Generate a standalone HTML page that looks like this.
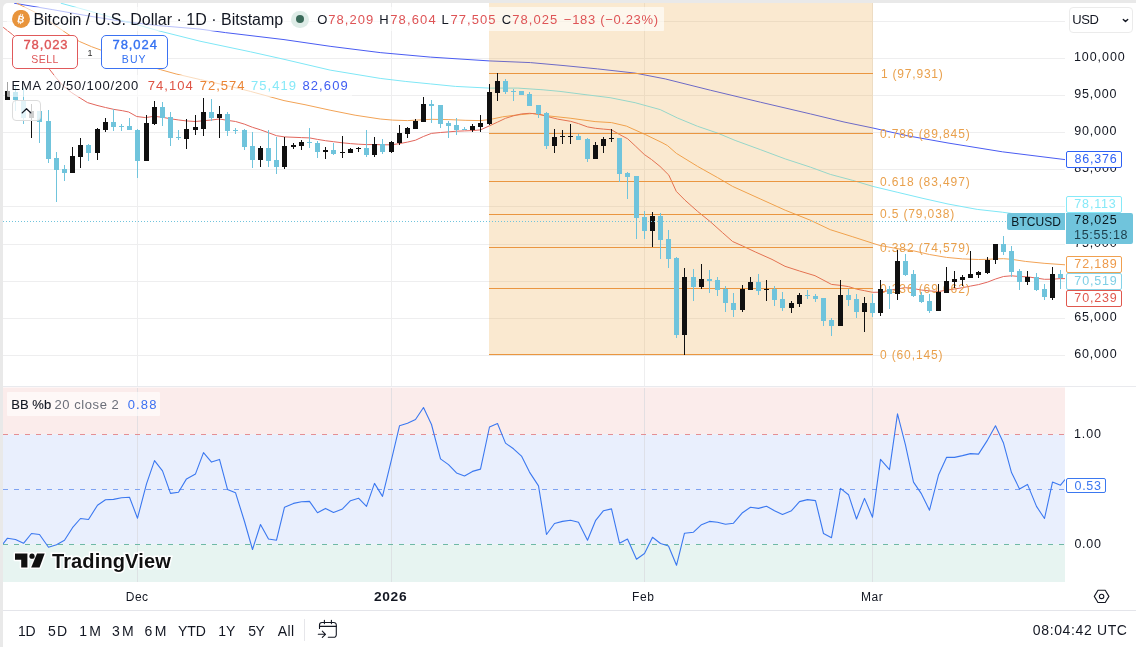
<!DOCTYPE html>
<html><head><meta charset="utf-8"><title>BTCUSD chart</title><style>
html,body{margin:0;padding:0}
body{width:1136px;height:647px;overflow:hidden;background:#e9e9e9;font-family:"Liberation Sans",sans-serif;position:relative}
#app{position:absolute;left:3px;top:3px;width:1133px;height:644px;background:#fff;border-top-left-radius:5px}
#root{position:absolute;left:0;top:0;width:1136px;height:647px;overflow:hidden;will-change:transform}
.chart{position:absolute;left:0;top:0}
.t{position:absolute;white-space:pre;font-family:"Liberation Sans",sans-serif}
.lbg{position:absolute;background:rgba(255,255,255,.62);border-radius:1px}
.btc{position:absolute;width:18px;height:18px}
.btn{position:absolute;box-sizing:border-box;border:1px solid #ccc;border-radius:5px;background:#fff}
.pl{position:absolute;box-sizing:border-box;border:1px solid #ccc;border-radius:2px;background:#fff}
</style></head><body><div id="app"></div><div id="root">
<svg class="chart" width="1136" height="647" viewBox="0 0 1136 647">
<defs><clipPath id="cm"><rect x="3" y="3" width="1062" height="383.5"/></clipPath><clipPath id="cl"><rect x="3" y="387.5" width="1062" height="194.5"/></clipPath></defs>
<rect x="3" y="387.5" width="1062" height="46.80000000000001" fill="#fbeceb"/>
<rect x="3" y="434.3" width="1062" height="110.19999999999999" fill="#e9effd"/>
<rect x="3" y="544.5" width="1062" height="37.5" fill="#e7f4f1"/>
<g stroke="#eeeeef" stroke-width="1" shape-rendering="crispEdges">
<line x1="3" x2="1065" y1="21.5" y2="21.5"/>
<line x1="3" x2="1065" y1="58.5" y2="58.5"/>
<line x1="3" x2="1065" y1="95.5" y2="95.5"/>
<line x1="3" x2="1065" y1="132.5" y2="132.5"/>
<line x1="3" x2="1065" y1="169.5" y2="169.5"/>
<line x1="3" x2="1065" y1="206.5" y2="206.5"/>
<line x1="3" x2="1065" y1="244.5" y2="244.5"/>
<line x1="3" x2="1065" y1="281.5" y2="281.5"/>
<line x1="3" x2="1065" y1="318.5" y2="318.5"/>
<line x1="3" x2="1065" y1="355.5" y2="355.5"/>
<line x1="137.5" x2="137.5" y1="3" y2="386.5"/>
<line x1="391.5" x2="391.5" y1="3" y2="386.5"/>
<line x1="644.5" x2="644.5" y1="3" y2="386.5"/>
<line x1="872.5" x2="872.5" y1="3" y2="386.5"/>
</g>
<g stroke="#d9dade" stroke-opacity="0.7" stroke-width="1" shape-rendering="crispEdges">
<line x1="137.5" x2="137.5" y1="387.5" y2="582"/>
<line x1="391.5" x2="391.5" y1="387.5" y2="582"/>
<line x1="644.5" x2="644.5" y1="387.5" y2="582"/>
<line x1="872.5" x2="872.5" y1="387.5" y2="582"/>
</g>
<g clip-path="url(#cm)" fill="none" stroke-width="1" stroke-linejoin="round">
<polyline stroke="#4a5cf2" points="14.1,3.2 52.9,9.7 88.1,15.9 123.3,21.5 158.6,25.6 200.0,29.1 225.4,32.6 284.0,39.6 330.1,46.3 380.2,52.6 430.3,57.1 489.1,60.9 530.4,62.6 564.0,65.6 597.6,68.9 635.1,73.1 665.2,78.9 710.3,90.2 760.4,102.2 810.4,113.9 844.0,122.0 872.9,128.0 906.0,135.5 948.0,143.0 1002.3,151.8 1065.0,159.6"/>
<polyline stroke="#7fe7f6" points="60.8,3.2 88.1,10.6 123.3,20.8 158.6,30.8 200.0,41.2 250.4,51.8 284.0,59.3 330.1,70.1 380.2,78.4 405.2,81.4 430.3,83.9 455.3,86.4 489.1,88.1 517.9,88.1 543.0,89.8 560.0,91.4 585.0,94.6 610.1,97.7 635.1,102.7 660.2,109.6 677.5,118.0 697.6,126.3 717.6,133.1 735.1,140.4 760.3,149.6 785.2,158.9 810.3,167.1 830.3,174.4 852.8,180.4 872.9,186.4 897.9,192.4 923.0,198.4 948.0,204.0 977.2,209.4 1002.3,212.2 1030.0,216.0 1065.0,219.5"/>
<polyline stroke="#f2a356" points="16.7,3.2 35.2,12.3 52.9,23.8 67.0,33.5 79.3,41.4 91.6,46.7 100.4,49.9 130.0,59.6 160.4,69.6 176.2,74.0 200.4,79.6 225.4,85.2 250.4,91.4 284.0,100.6 305.0,104.7 330.1,110.2 355.1,115.2 380.2,119.0 392.7,120.1 407.5,120.6 431.3,119.3 448.9,119.6 465.1,120.3 480.2,120.6 489.5,119.6 502.7,116.8 515.2,115.2 532.5,113.5 546.5,115.7 570.1,118.2 595.1,121.6 611.5,122.6 626.4,126.1 645.2,134.5 662.0,142.6 667.5,145.6 676.3,153.3 697.6,166.4 717.6,177.6 732.6,186.4 760.2,198.9 785.2,210.2 810.3,220.2 830.3,229.7 852.8,236.8 872.9,243.3 880.0,245.5 897.5,248.7 913.4,250.8 929.5,254.5 946.5,257.4 962.5,258.9 978.5,259.5 987.6,259.3 995.5,258.9 1003.5,258.7 1011.5,259.3 1025.3,261.4 1044.1,263.3 1065.1,264.8"/>
<polyline stroke="#e2665c" points="3.2,27.3 12.3,34.4 49.5,69.3 55.8,77.4 63.2,85.9 71.7,92.7 80.1,98.0 87.5,102.6 97.0,105.4 105.5,107.5 113.9,109.4 122.4,110.7 128.7,112.0 136.7,116.5 145.6,117.6 154.1,116.3 162.6,117.3 170.7,118.8 178.8,120.0 186.3,120.9 195.1,121.5 203.9,120.7 211.4,120.0 219.5,119.0 227.7,120.4 235.6,121.5 244.3,124.1 252.5,127.3 260.5,129.8 268.5,132.7 276.5,135.7 284.5,136.9 301.4,137.6 309.5,137.9 317.5,139.4 325.5,140.7 333.5,141.7 342.4,142.8 350.4,143.6 358.5,144.2 366.6,144.6 374.5,144.5 382.5,144.8 391.5,144.8 399.5,143.6 407.5,142.1 415.5,140.2 423.4,136.5 431.4,133.4 440.5,132.5 448.5,131.9 456.5,131.2 464.5,130.9 472.5,130.6 480.4,129.9 489.5,125.8 497.6,122.1 505.5,118.3 513.5,115.8 521.5,113.9 529.5,113.3 538.8,114.1 546.5,116.3 557.6,119.1 570.5,121.3 578.5,123.6 587.5,126.9 595.5,128.3 603.5,129.1 611.5,129.8 619.5,134.5 627.7,138.8 635.8,146.4 644.3,154.5 651.5,159.5 660.0,166.4 668.8,175.1 676.3,191.4 685.0,200.2 697.6,211.4 710.1,221.5 722.6,232.7 732.6,241.5 742.7,246.0 755.2,251.9 772.0,259.4 785.0,266.3 799.5,271.0 815.0,275.7 831.5,284.4 840.5,285.4 848.5,286.6 856.5,289.1 864.5,290.7 872.5,292.3 880.5,292.2 889.5,290.4 897.5,288.8 905.5,287.7 913.4,288.6 921.4,290.0 929.5,290.9 938.5,291.5 946.5,290.2 954.5,289.0 962.5,287.7 970.4,286.1 978.5,284.6 987.6,282.1 995.5,279.0 1003.5,276.5 1011.5,275.8 1019.5,276.5 1027.4,276.8 1036.6,278.1 1044.5,279.3 1052.5,279.2 1060.5,278.6 1065.1,278.6"/>
</g>
<rect x="489" y="3" width="384" height="352.3" fill="#e99d2e" fill-opacity="0.225"/>
<g stroke="#ea9640" stroke-width="1" shape-rendering="crispEdges">
<line x1="489" x2="873" y1="73.5" y2="73.5"/>
<line x1="489" x2="873" y1="133.5" y2="133.5"/>
<line x1="489" x2="873" y1="181.5" y2="181.5"/>
<line x1="489" x2="873" y1="214.5" y2="214.5"/>
<line x1="489" x2="873" y1="247.5" y2="247.5"/>
<line x1="489" x2="873" y1="288.5" y2="288.5"/>
<line x1="489" x2="873" y1="354.5" y2="354.5"/>
</g>
<g font-family="Liberation Sans, sans-serif">
<text x="880.89" y="77.50" font-size="12" fill="#e9a04c" letter-spacing="0.806">1 (97,931)</text>
<text x="879.93" y="137.50" font-size="12" fill="#e9a04c" letter-spacing="0.904">0.786 (89,845)</text>
<text x="879.93" y="185.60" font-size="12" fill="#e9a04c" letter-spacing="0.904">0.618 (83,497)</text>
<text x="879.93" y="218.40" font-size="12" fill="#e9a04c" letter-spacing="0.873">0.5 (79,038)</text>
<text x="879.93" y="251.50" font-size="12" fill="#e9a04c" letter-spacing="0.904">0.382 (74,579)</text>
<text x="879.93" y="292.50" font-size="12" fill="#e9a04c" letter-spacing="0.904">0.236 (69,062)</text>
<text x="879.93" y="358.80" font-size="12" fill="#e9a04c" letter-spacing="0.879">0 (60,145)</text>
</g>
<g shape-rendering="crispEdges">
<rect x="7.0" y="82" width="1" height="18" fill="#101010"/><rect x="5.0" y="91" width="5" height="9" fill="#101010"/>
<rect x="15.0" y="86" width="1" height="25" fill="#70c4dc"/><rect x="13.0" y="92" width="5" height="8" fill="#70c4dc"/>
<rect x="23.0" y="88" width="1" height="36" fill="#70c4dc"/><rect x="21.0" y="101" width="5" height="17" fill="#70c4dc"/>
<rect x="31.0" y="104" width="1" height="34" fill="#101010"/><rect x="29.0" y="111" width="5" height="7" fill="#101010"/>
<rect x="39.0" y="111" width="1" height="32" fill="#70c4dc"/><rect x="37.0" y="111" width="5" height="11" fill="#70c4dc"/>
<rect x="48.0" y="110" width="1" height="53" fill="#70c4dc"/><rect x="46.0" y="121" width="5" height="38" fill="#70c4dc"/>
<rect x="56.0" y="152" width="1" height="50" fill="#70c4dc"/><rect x="54.0" y="158" width="5" height="12" fill="#70c4dc"/>
<rect x="64.0" y="165" width="1" height="16" fill="#70c4dc"/><rect x="62.0" y="169" width="5" height="4" fill="#70c4dc"/>
<rect x="72.0" y="147" width="1" height="26" fill="#101010"/><rect x="70.0" y="156" width="5" height="17" fill="#101010"/>
<rect x="80.0" y="138" width="1" height="30" fill="#101010"/><rect x="78.0" y="145" width="5" height="12" fill="#101010"/>
<rect x="88.0" y="144" width="1" height="17" fill="#70c4dc"/><rect x="86.0" y="145" width="5" height="8" fill="#70c4dc"/>
<rect x="97.0" y="128" width="1" height="32" fill="#101010"/><rect x="95.0" y="129" width="5" height="24" fill="#101010"/>
<rect x="105.0" y="118" width="1" height="14" fill="#101010"/><rect x="103.0" y="122" width="5" height="8" fill="#101010"/>
<rect x="113.0" y="109" width="1" height="22" fill="#70c4dc"/><rect x="111.0" y="122" width="5" height="5" fill="#70c4dc"/>
<rect x="121.0" y="124" width="1" height="7" fill="#70c4dc"/><rect x="119.0" y="126" width="5" height="1" fill="#70c4dc"/>
<rect x="129.0" y="118" width="1" height="12" fill="#70c4dc"/><rect x="127.0" y="126" width="5" height="4" fill="#70c4dc"/>
<rect x="137.0" y="129" width="1" height="49" fill="#70c4dc"/><rect x="135.0" y="130" width="5" height="31" fill="#70c4dc"/>
<rect x="146.0" y="115" width="1" height="46" fill="#101010"/><rect x="144.0" y="123" width="5" height="38" fill="#101010"/>
<rect x="154.0" y="101" width="1" height="24" fill="#101010"/><rect x="152.0" y="107" width="5" height="17" fill="#101010"/>
<rect x="162.0" y="102" width="1" height="24" fill="#70c4dc"/><rect x="160.0" y="107" width="5" height="11" fill="#70c4dc"/>
<rect x="170.0" y="112" width="1" height="34" fill="#70c4dc"/><rect x="168.0" y="117" width="5" height="21" fill="#70c4dc"/>
<rect x="178.0" y="130" width="1" height="10" fill="#70c4dc"/><rect x="176.0" y="137" width="5" height="1" fill="#70c4dc"/>
<rect x="186.0" y="119" width="1" height="30" fill="#101010"/><rect x="184.0" y="129" width="5" height="10" fill="#101010"/>
<rect x="195.0" y="115" width="1" height="20" fill="#101010"/><rect x="193.0" y="127" width="5" height="3" fill="#101010"/>
<rect x="203.0" y="98" width="1" height="38" fill="#101010"/><rect x="201.0" y="112" width="5" height="17" fill="#101010"/>
<rect x="211.0" y="99" width="1" height="22" fill="#70c4dc"/><rect x="209.0" y="112" width="5" height="6" fill="#70c4dc"/>
<rect x="219.0" y="106" width="1" height="32" fill="#101010"/><rect x="217.0" y="114" width="5" height="4" fill="#101010"/>
<rect x="227.0" y="112" width="1" height="24" fill="#70c4dc"/><rect x="225.0" y="114" width="5" height="17" fill="#70c4dc"/>
<rect x="235.0" y="128" width="1" height="6" fill="#70c4dc"/><rect x="233.0" y="130" width="5" height="1" fill="#70c4dc"/>
<rect x="244.0" y="129" width="1" height="21" fill="#70c4dc"/><rect x="242.0" y="130" width="5" height="17" fill="#70c4dc"/>
<rect x="252.0" y="132" width="1" height="36" fill="#70c4dc"/><rect x="250.0" y="146" width="5" height="14" fill="#70c4dc"/>
<rect x="260.0" y="146" width="1" height="21" fill="#101010"/><rect x="258.0" y="148" width="5" height="12" fill="#101010"/>
<rect x="268.0" y="130" width="1" height="37" fill="#70c4dc"/><rect x="266.0" y="148" width="5" height="13" fill="#70c4dc"/>
<rect x="276.0" y="137" width="1" height="37" fill="#70c4dc"/><rect x="274.0" y="160" width="5" height="7" fill="#70c4dc"/>
<rect x="284.0" y="137" width="1" height="32" fill="#101010"/><rect x="282.0" y="146" width="5" height="21" fill="#101010"/>
<rect x="293.0" y="143" width="1" height="6" fill="#101010"/><rect x="291.0" y="145" width="5" height="2" fill="#101010"/>
<rect x="301.0" y="140" width="1" height="10" fill="#101010"/><rect x="299.0" y="142" width="5" height="4" fill="#101010"/>
<rect x="309.0" y="128" width="1" height="20" fill="#70c4dc"/><rect x="307.0" y="142" width="5" height="1" fill="#70c4dc"/>
<rect x="317.0" y="141" width="1" height="17" fill="#70c4dc"/><rect x="315.0" y="143" width="5" height="9" fill="#70c4dc"/>
<rect x="325.0" y="147" width="1" height="12" fill="#101010"/><rect x="323.0" y="150" width="5" height="2" fill="#101010"/>
<rect x="333.0" y="143" width="1" height="12" fill="#70c4dc"/><rect x="331.0" y="150" width="5" height="4" fill="#70c4dc"/>
<rect x="342.0" y="136" width="1" height="22" fill="#101010"/><rect x="340.0" y="152" width="5" height="1" fill="#101010"/>
<rect x="350.0" y="148" width="1" height="5" fill="#101010"/><rect x="348.0" y="149" width="5" height="4" fill="#101010"/>
<rect x="358.0" y="147" width="1" height="5" fill="#101010"/><rect x="356.0" y="148" width="5" height="1" fill="#101010"/>
<rect x="366.0" y="130" width="1" height="27" fill="#70c4dc"/><rect x="364.0" y="148" width="5" height="7" fill="#70c4dc"/>
<rect x="374.0" y="137" width="1" height="20" fill="#101010"/><rect x="372.0" y="144" width="5" height="11" fill="#101010"/>
<rect x="382.0" y="139" width="1" height="15" fill="#70c4dc"/><rect x="380.0" y="144" width="5" height="8" fill="#70c4dc"/>
<rect x="391.0" y="141" width="1" height="12" fill="#101010"/><rect x="389.0" y="142" width="5" height="10" fill="#101010"/>
<rect x="399.0" y="125" width="1" height="20" fill="#101010"/><rect x="397.0" y="133" width="5" height="10" fill="#101010"/>
<rect x="407.0" y="127" width="1" height="11" fill="#101010"/><rect x="405.0" y="128" width="5" height="6" fill="#101010"/>
<rect x="415.0" y="119" width="1" height="10" fill="#101010"/><rect x="413.0" y="121" width="5" height="8" fill="#101010"/>
<rect x="423.0" y="97" width="1" height="25" fill="#101010"/><rect x="421.0" y="104" width="5" height="18" fill="#101010"/>
<rect x="431.0" y="100" width="1" height="23" fill="#70c4dc"/><rect x="429.0" y="104" width="5" height="2" fill="#70c4dc"/>
<rect x="440.0" y="105" width="1" height="23" fill="#70c4dc"/><rect x="438.0" y="105" width="5" height="19" fill="#70c4dc"/>
<rect x="448.0" y="121" width="1" height="17" fill="#70c4dc"/><rect x="446.0" y="123" width="5" height="3" fill="#70c4dc"/>
<rect x="456.0" y="118" width="1" height="17" fill="#70c4dc"/><rect x="454.0" y="125" width="5" height="5" fill="#70c4dc"/>
<rect x="464.0" y="127" width="1" height="3" fill="#70c4dc"/><rect x="462.0" y="129" width="5" height="1" fill="#70c4dc"/>
<rect x="472.0" y="124" width="1" height="8" fill="#101010"/><rect x="470.0" y="126" width="5" height="4" fill="#101010"/>
<rect x="480.0" y="115" width="1" height="17" fill="#101010"/><rect x="478.0" y="123" width="5" height="4" fill="#101010"/>
<rect x="489.0" y="84" width="1" height="41" fill="#101010"/><rect x="487.0" y="92" width="5" height="32" fill="#101010"/>
<rect x="497.0" y="73" width="1" height="28" fill="#101010"/><rect x="495.0" y="81" width="5" height="12" fill="#101010"/>
<rect x="505.0" y="79" width="1" height="15" fill="#70c4dc"/><rect x="503.0" y="81" width="5" height="11" fill="#70c4dc"/>
<rect x="513.0" y="89" width="1" height="12" fill="#70c4dc"/><rect x="511.0" y="91" width="5" height="1" fill="#70c4dc"/>
<rect x="521.0" y="91" width="1" height="4" fill="#70c4dc"/><rect x="519.0" y="91" width="5" height="4" fill="#70c4dc"/>
<rect x="529.0" y="92" width="1" height="14" fill="#70c4dc"/><rect x="527.0" y="94" width="5" height="12" fill="#70c4dc"/>
<rect x="538.0" y="105" width="1" height="13" fill="#70c4dc"/><rect x="536.0" y="105" width="5" height="9" fill="#70c4dc"/>
<rect x="546.0" y="112" width="1" height="37" fill="#70c4dc"/><rect x="544.0" y="113" width="5" height="33" fill="#70c4dc"/>
<rect x="554.0" y="129" width="1" height="24" fill="#101010"/><rect x="552.0" y="137" width="5" height="9" fill="#101010"/>
<rect x="562.0" y="130" width="1" height="14" fill="#101010"/><rect x="560.0" y="136" width="5" height="1" fill="#101010"/>
<rect x="570.0" y="124" width="1" height="20" fill="#101010"/><rect x="568.0" y="136" width="5" height="1" fill="#101010"/>
<rect x="578.0" y="134" width="1" height="6" fill="#70c4dc"/><rect x="576.0" y="136" width="5" height="4" fill="#70c4dc"/>
<rect x="587.0" y="138" width="1" height="24" fill="#70c4dc"/><rect x="585.0" y="139" width="5" height="20" fill="#70c4dc"/>
<rect x="595.0" y="142" width="1" height="17" fill="#101010"/><rect x="593.0" y="145" width="5" height="14" fill="#101010"/>
<rect x="603.0" y="137" width="1" height="16" fill="#101010"/><rect x="601.0" y="139" width="5" height="7" fill="#101010"/>
<rect x="611.0" y="129" width="1" height="13" fill="#101010"/><rect x="609.0" y="138" width="5" height="1" fill="#101010"/>
<rect x="619.0" y="138" width="1" height="44" fill="#70c4dc"/><rect x="617.0" y="138" width="5" height="36" fill="#70c4dc"/>
<rect x="627.0" y="172" width="1" height="27" fill="#70c4dc"/><rect x="625.0" y="173" width="5" height="4" fill="#70c4dc"/>
<rect x="636.0" y="176" width="1" height="63" fill="#70c4dc"/><rect x="634.0" y="176" width="5" height="42" fill="#70c4dc"/>
<rect x="644.0" y="211" width="1" height="28" fill="#70c4dc"/><rect x="642.0" y="217" width="5" height="14" fill="#70c4dc"/>
<rect x="652.0" y="212" width="1" height="35" fill="#101010"/><rect x="650.0" y="216" width="5" height="15" fill="#101010"/>
<rect x="660.0" y="213" width="1" height="46" fill="#70c4dc"/><rect x="658.0" y="216" width="5" height="24" fill="#70c4dc"/>
<rect x="668.0" y="230" width="1" height="38" fill="#70c4dc"/><rect x="666.0" y="239" width="5" height="20" fill="#70c4dc"/>
<rect x="676.0" y="257" width="1" height="81" fill="#70c4dc"/><rect x="674.0" y="258" width="5" height="77" fill="#70c4dc"/>
<rect x="684.0" y="268" width="1" height="87" fill="#101010"/><rect x="682.0" y="277" width="5" height="58" fill="#101010"/>
<rect x="693.0" y="269" width="1" height="32" fill="#70c4dc"/><rect x="691.0" y="277" width="5" height="10" fill="#70c4dc"/>
<rect x="701.0" y="264" width="1" height="25" fill="#101010"/><rect x="699.0" y="279" width="5" height="8" fill="#101010"/>
<rect x="709.0" y="270" width="1" height="23" fill="#70c4dc"/><rect x="707.0" y="279" width="5" height="2" fill="#70c4dc"/>
<rect x="717.0" y="277" width="1" height="19" fill="#70c4dc"/><rect x="715.0" y="280" width="5" height="10" fill="#70c4dc"/>
<rect x="725.0" y="286" width="1" height="26" fill="#70c4dc"/><rect x="723.0" y="289" width="5" height="14" fill="#70c4dc"/>
<rect x="733.0" y="293" width="1" height="24" fill="#70c4dc"/><rect x="731.0" y="303" width="5" height="7" fill="#70c4dc"/>
<rect x="742.0" y="285" width="1" height="27" fill="#101010"/><rect x="740.0" y="289" width="5" height="21" fill="#101010"/>
<rect x="750.0" y="277" width="1" height="13" fill="#101010"/><rect x="748.0" y="282" width="5" height="8" fill="#101010"/>
<rect x="758.0" y="274" width="1" height="21" fill="#70c4dc"/><rect x="756.0" y="282" width="5" height="9" fill="#70c4dc"/>
<rect x="766.0" y="280" width="1" height="21" fill="#101010"/><rect x="764.0" y="289" width="5" height="1" fill="#101010"/>
<rect x="774.0" y="286" width="1" height="20" fill="#70c4dc"/><rect x="772.0" y="289" width="5" height="11" fill="#70c4dc"/>
<rect x="782.0" y="292" width="1" height="19" fill="#70c4dc"/><rect x="780.0" y="299" width="5" height="9" fill="#70c4dc"/>
<rect x="791.0" y="301" width="1" height="12" fill="#101010"/><rect x="789.0" y="303" width="5" height="5" fill="#101010"/>
<rect x="799.0" y="293" width="1" height="14" fill="#101010"/><rect x="797.0" y="295" width="5" height="9" fill="#101010"/>
<rect x="807.0" y="290" width="1" height="9" fill="#70c4dc"/><rect x="805.0" y="295" width="5" height="1" fill="#70c4dc"/>
<rect x="815.0" y="294" width="1" height="8" fill="#70c4dc"/><rect x="813.0" y="296" width="5" height="3" fill="#70c4dc"/>
<rect x="823.0" y="298" width="1" height="28" fill="#70c4dc"/><rect x="821.0" y="298" width="5" height="23" fill="#70c4dc"/>
<rect x="831.0" y="318" width="1" height="18" fill="#70c4dc"/><rect x="829.0" y="320" width="5" height="6" fill="#70c4dc"/>
<rect x="840.0" y="280" width="1" height="46" fill="#101010"/><rect x="838.0" y="295" width="5" height="31" fill="#101010"/>
<rect x="848.0" y="289" width="1" height="17" fill="#70c4dc"/><rect x="846.0" y="295" width="5" height="5" fill="#70c4dc"/>
<rect x="856.0" y="294" width="1" height="24" fill="#70c4dc"/><rect x="854.0" y="299" width="5" height="13" fill="#70c4dc"/>
<rect x="864.0" y="297" width="1" height="35" fill="#101010"/><rect x="862.0" y="303" width="5" height="9" fill="#101010"/>
<rect x="872.0" y="294" width="1" height="23" fill="#70c4dc"/><rect x="870.0" y="303" width="5" height="10" fill="#70c4dc"/>
<rect x="880.0" y="280" width="1" height="36" fill="#101010"/><rect x="878.0" y="289" width="5" height="24" fill="#101010"/>
<rect x="889.0" y="286" width="1" height="23" fill="#70c4dc"/><rect x="887.0" y="289" width="5" height="5" fill="#70c4dc"/>
<rect x="897.0" y="250" width="1" height="50" fill="#101010"/><rect x="895.0" y="261" width="5" height="33" fill="#101010"/>
<rect x="905.0" y="254" width="1" height="22" fill="#70c4dc"/><rect x="903.0" y="261" width="5" height="14" fill="#70c4dc"/>
<rect x="913.0" y="270" width="1" height="27" fill="#70c4dc"/><rect x="911.0" y="274" width="5" height="22" fill="#70c4dc"/>
<rect x="921.0" y="292" width="1" height="11" fill="#70c4dc"/><rect x="919.0" y="295" width="5" height="7" fill="#70c4dc"/>
<rect x="929.0" y="294" width="1" height="19" fill="#70c4dc"/><rect x="927.0" y="301" width="5" height="10" fill="#70c4dc"/>
<rect x="938.0" y="284" width="1" height="27" fill="#101010"/><rect x="936.0" y="292" width="5" height="19" fill="#101010"/>
<rect x="946.0" y="267" width="1" height="26" fill="#101010"/><rect x="944.0" y="281" width="5" height="12" fill="#101010"/>
<rect x="954.0" y="271" width="1" height="17" fill="#101010"/><rect x="952.0" y="279" width="5" height="3" fill="#101010"/>
<rect x="962.0" y="275" width="1" height="11" fill="#101010"/><rect x="960.0" y="277" width="5" height="3" fill="#101010"/>
<rect x="970.0" y="251" width="1" height="27" fill="#101010"/><rect x="968.0" y="274" width="5" height="4" fill="#101010"/>
<rect x="978.0" y="271" width="1" height="7" fill="#101010"/><rect x="976.0" y="272" width="5" height="3" fill="#101010"/>
<rect x="987.0" y="257" width="1" height="17" fill="#101010"/><rect x="985.0" y="260" width="5" height="13" fill="#101010"/>
<rect x="995.0" y="244" width="1" height="20" fill="#101010"/><rect x="993.0" y="244" width="5" height="16" fill="#101010"/>
<rect x="1003.0" y="236" width="1" height="19" fill="#70c4dc"/><rect x="1001.0" y="244" width="5" height="8" fill="#70c4dc"/>
<rect x="1011.0" y="246" width="1" height="31" fill="#70c4dc"/><rect x="1009.0" y="251" width="5" height="21" fill="#70c4dc"/>
<rect x="1019.0" y="269" width="1" height="21" fill="#70c4dc"/><rect x="1017.0" y="271" width="5" height="11" fill="#70c4dc"/>
<rect x="1027.0" y="271" width="1" height="14" fill="#101010"/><rect x="1025.0" y="277" width="5" height="5" fill="#101010"/>
<rect x="1036.0" y="273" width="1" height="18" fill="#70c4dc"/><rect x="1034.0" y="277" width="5" height="13" fill="#70c4dc"/>
<rect x="1044.0" y="284" width="1" height="16" fill="#70c4dc"/><rect x="1042.0" y="289" width="5" height="8" fill="#70c4dc"/>
<rect x="1052.0" y="267" width="1" height="33" fill="#101010"/><rect x="1050.0" y="274" width="5" height="24" fill="#101010"/>
<rect x="1060.0" y="270" width="1" height="19" fill="#70c4dc"/><rect x="1058.0" y="274" width="5" height="4" fill="#70c4dc"/>
</g>
<line x1="3" x2="1065" y1="221.5" y2="221.5" stroke="#70c4dc" stroke-width="1" stroke-dasharray="1 2" shape-rendering="crispEdges"/>
<rect x="3" y="386" width="1133" height="1" fill="#e9eaee"/>
<g stroke-width="1" stroke-dasharray="5 6" shape-rendering="crispEdges">
<line x1="3" x2="1065" y1="434.5" y2="434.5" stroke="#e58f93"/>
<line x1="3" x2="1065" y1="489.5" y2="489.5" stroke="#7ea3f2"/>
<line x1="3" x2="1065" y1="544.5" y2="544.5" stroke="#6fb9a6"/>
</g>
<polyline clip-path="url(#cl)" fill="none" stroke="#3b78f0" stroke-width="1.1" stroke-linejoin="round" points="3.0,544.0 7.5,538.2 15.5,539.5 23.5,543.3 31.5,533.5 39.5,534.5 48.5,547.3 56.5,544.8 64.5,540.2 72.5,527.7 80.5,518.5 88.5,519.5 97.5,505.2 105.5,499.7 113.5,499.4 121.5,497.7 129.5,497.2 137.5,518.2 146.5,483.9 154.5,460.6 162.5,470.9 170.5,493.4 178.5,492.2 186.5,478.9 195.5,473.9 203.5,452.6 211.5,462.1 219.5,459.4 227.5,489.4 235.5,492.7 244.5,521.5 252.5,549.5 260.5,524.5 268.5,539.0 276.5,540.2 284.5,507.2 293.5,503.4 301.5,501.7 309.5,501.4 317.5,512.7 325.5,508.4 333.5,512.4 342.5,508.9 350.5,500.7 358.5,498.2 366.5,506.4 374.5,483.4 382.5,496.4 391.5,459.6 399.5,425.8 407.5,423.3 415.5,419.5 423.5,407.5 431.5,424.5 440.5,458.9 448.5,464.6 456.5,472.9 464.5,475.9 472.5,471.4 480.5,469.1 489.5,427.0 497.5,423.5 505.5,443.1 513.5,448.8 521.5,456.1 529.5,472.1 538.5,485.9 546.5,534.5 554.5,523.5 562.5,521.4 570.5,520.2 578.5,522.2 587.5,540.2 595.5,520.7 603.5,510.7 611.5,508.9 619.5,543.2 627.5,539.0 636.5,559.2 644.5,553.5 652.5,537.2 660.5,543.5 668.5,546.0 676.5,565.3 684.5,533.2 693.5,532.2 701.5,524.7 709.5,521.4 717.5,522.2 725.5,524.2 733.5,523.2 742.5,512.7 750.5,507.2 758.5,508.4 766.5,506.2 774.5,510.7 782.5,514.4 791.5,510.7 799.5,501.6 807.5,499.6 815.5,500.6 823.5,533.5 831.5,537.7 840.5,488.4 848.5,494.7 856.5,519.0 864.5,498.4 872.5,517.2 880.5,459.4 889.5,469.6 897.5,413.8 905.5,445.1 913.5,482.1 921.5,493.9 929.5,510.2 938.5,475.1 946.5,457.4 954.5,457.4 962.5,455.6 970.5,453.6 978.5,454.1 987.5,440.1 995.5,425.8 1003.5,443.1 1011.5,472.6 1019.5,488.9 1027.5,484.4 1036.5,506.4 1044.5,518.5 1052.5,482.1 1060.5,485.2 1065.0,479.6"/>
<rect x="3" y="610" width="1133" height="1" fill="#e4e5ea"/>
<rect x="304" y="619" width="1" height="22" fill="#e6e6ea"/>
<g fill="none" stroke="#131722" stroke-width="1.1" stroke-linecap="round" stroke-linejoin="round"><path d="M319.5,628.5 V625 a2.5,2.5 0 0 1 2.5,-2.5 H333.8 a2.5,2.5 0 0 1 2.5,2.5 V634.8 a2.5,2.5 0 0 1 -2.5,2.5 H328.3"/><path d="M319.5,626.4 H336.3"/><path d="M324.4,620.2 V623.6 M331.4,620.2 V623.6"/><path d="M318.3,634.3 H325.4 M322.3,631.2 L325.5,634.3 L322.3,637.4"/></g>
<polygon points="1094.3,596.4 1098.0,590.3 1105.2,590.3 1108.9,596.4 1105.2,602.5 1098.0,602.5" fill="none" stroke="#131722" stroke-width="1.1" stroke-linejoin="round"/><circle cx="1101.6" cy="596.4" r="2.2" fill="none" stroke="#131722" stroke-width="1.1"/>
</svg>
<div class="lbg" style="left:7px;top:7px;width:657px;height:24px"></div>
<div class="lbg" style="left:7px;top:75px;width:345px;height:22px"></div>
<div class="lbg" style="left:7px;top:392px;width:153px;height:24px"></div>
<div class="btc" style="left:12px;top:10px"><svg width="18" height="18" viewBox="0 0 18 18"><circle cx="9" cy="8.9" r="9" fill="#e8943c"/><g transform="rotate(13 9 9)" fill="#fff"><text x="9.1" y="12.5" font-family="Liberation Sans, sans-serif" font-weight="700" font-size="9.8" text-anchor="middle" fill="#fff">B</text><rect x="7.3" y="3.9" width="0.9" height="1.8"/><rect x="9.2" y="3.9" width="0.9" height="1.8"/><rect x="7.3" y="12.3" width="0.9" height="1.8"/><rect x="9.2" y="12.3" width="0.9" height="1.8"/></g></svg></div>
<span class="t" style="left:33.39px;top:11px;font-size:16px;line-height:17px;height:17px;color:#131722;">Bitcoin / U.S. Dollar · 1D · Bitstamp</span>
<div style="position:absolute;left:291.4px;top:10.7px;width:17.2px;height:17.2px;border-radius:50%;background:#deece7"></div><div style="position:absolute;left:296px;top:15.3px;width:8px;height:8px;border-radius:50%;background:#3a6a59"></div>
<span class="t" style="left:317.18px;top:12px;font-size:13px;line-height:15px;height:15px;color:#131722;">O</span>
<span class="t" style="left:328.33px;top:12px;font-size:13px;line-height:15px;height:15px;color:#de5456;letter-spacing:1.024px;">78,209</span>
<span class="t" style="left:379.13px;top:12px;font-size:13px;line-height:15px;height:15px;color:#131722;">H</span>
<span class="t" style="left:390.23px;top:12px;font-size:13px;line-height:15px;height:15px;color:#de5456;letter-spacing:1.137px;">78,604</span>
<span class="t" style="left:441.43px;top:12px;font-size:13px;line-height:15px;height:15px;color:#131722;">L</span>
<span class="t" style="left:450.43px;top:12px;font-size:13px;line-height:15px;height:15px;color:#de5456;letter-spacing:1.050px;">77,505</span>
<span class="t" style="left:501.74px;top:12px;font-size:13px;line-height:15px;height:15px;color:#131722;">C</span>
<span class="t" style="left:512.23px;top:12px;font-size:13px;line-height:15px;height:15px;color:#de5456;letter-spacing:1.050px;">78,025</span>
<span class="t" style="left:563.86px;top:12px;font-size:13px;line-height:15px;height:15px;color:#de5456;letter-spacing:0.679px;">−183 (−0.23%)</span>
<div class="btn" style="left:12px;top:35px;width:66px;height:34px;border-color:#e0595b"></div>
<div class="btn" style="left:101px;top:35px;width:67px;height:34px;border-color:#3b72f2"></div>
<span class="t" style="left:23.53px;top:37px;font-size:13px;line-height:15px;height:15px;color:#de5456;letter-spacing:0.855px;-webkit-text-stroke:0.35px #de5456;">78,023</span>
<span class="t" style="left:31.32px;top:53px;font-size:10.5px;line-height:12px;height:12px;color:#de5456;letter-spacing:0.480px;">SELL</span>
<span class="t" style="left:112.53px;top:37px;font-size:13px;line-height:15px;height:15px;color:#3370f2;letter-spacing:0.917px;-webkit-text-stroke:0.35px #3370f2;">78,024</span>
<span class="t" style="left:121.84px;top:53px;font-size:10.5px;line-height:12px;height:12px;color:#3370f2;letter-spacing:1.051px;">BUY</span>
<span class="t" style="left:87.51px;top:48px;font-size:9px;line-height:10px;height:10px;color:#2a2a2a;">1</span>
<span class="t" style="left:11.53px;top:78px;font-size:13px;line-height:15px;height:15px;color:#131722;letter-spacing:0.779px;">EMA 20/50/100/200</span>
<span class="t" style="left:147.83px;top:78px;font-size:13px;line-height:15px;height:15px;color:#de5344;letter-spacing:1.017px;">74,104</span>
<span class="t" style="left:199.73px;top:78px;font-size:13px;line-height:15px;height:15px;color:#ea8435;letter-spacing:1.017px;">72,574</span>
<span class="t" style="left:251.03px;top:78px;font-size:13px;line-height:15px;height:15px;color:#86e9f8;letter-spacing:1.064px;">75,419</span>
<span class="t" style="left:302.44px;top:78px;font-size:13px;line-height:15px;height:15px;color:#3f5df2;letter-spacing:1.104px;">82,609</span>
<div class="btn" style="left:12px;top:100px;width:28.5px;height:21px;border-color:#dcdcdc;background:rgba(255,255,255,.8);border-radius:4px"></div>
<svg style="position:absolute;left:0;top:0" width="60" height="130"><path d="M22.2,112.9 L26.5,108.8 L30.8,112.9" fill="none" stroke="#131722" stroke-width="1.3" stroke-linecap="round" stroke-linejoin="round"/></svg>
<div class="btn" style="left:1069.3px;top:7.2px;width:63.5px;height:25.6px;border-color:#ebebeb;border-radius:4px"></div>
<span class="t" style="left:1072.14px;top:12px;font-size:13px;line-height:15px;height:15px;color:#131722;letter-spacing:-0.350px;">USD</span>
<svg style="position:absolute;left:1118px;top:14px" width="14" height="12"><path d="M5.3,5.4 L7.5,7.6 L9.7,5.4" fill="none" stroke="#131722" stroke-width="1.4" stroke-linecap="round" stroke-linejoin="round"/></svg>
<span class="t" style="left:1073.95px;top:50px;font-size:12.5px;line-height:14px;height:14px;color:#131722;letter-spacing:0.943px;">100,000</span>
<span class="t" style="left:1074.31px;top:87px;font-size:12.5px;line-height:14px;height:14px;color:#131722;letter-spacing:0.808px;">95,000</span>
<span class="t" style="left:1074.31px;top:124px;font-size:12.5px;line-height:14px;height:14px;color:#131722;letter-spacing:0.808px;">90,000</span>
<span class="t" style="left:1074.36px;top:161px;font-size:12.5px;line-height:14px;height:14px;color:#131722;letter-spacing:0.800px;">85,000</span>
<span class="t" style="left:1074.36px;top:198px;font-size:12.5px;line-height:14px;height:14px;color:#131722;letter-spacing:0.800px;">80,000</span>
<span class="t" style="left:1074.26px;top:236px;font-size:12.5px;line-height:14px;height:14px;color:#131722;letter-spacing:0.819px;">75,000</span>
<span class="t" style="left:1074.26px;top:273px;font-size:12.5px;line-height:14px;height:14px;color:#131722;letter-spacing:0.819px;">70,000</span>
<span class="t" style="left:1074.27px;top:310px;font-size:12.5px;line-height:14px;height:14px;color:#131722;letter-spacing:0.818px;">65,000</span>
<span class="t" style="left:1074.27px;top:347px;font-size:12.5px;line-height:14px;height:14px;color:#131722;letter-spacing:0.818px;">60,000</span>
<div class="pl" style="left:1066px;top:151.3px;width:55.5px;height:16.599999999999994px;border-color:#2f62f5;background:#fff"></div>
<span class="t" style="left:1074.46px;top:152px;font-size:12.5px;line-height:14px;height:14px;color:#2f62f5;letter-spacing:0.792px;">86,376</span>
<div class="pl" style="left:1066px;top:196.2px;width:55.5px;height:16.400000000000006px;border-color:#86e9f8;background:#fff"></div>
<span class="t" style="left:1074.36px;top:197px;font-size:12.5px;line-height:14px;height:14px;color:#86e9f8;letter-spacing:0.812px;">78,113</span>
<div class="pl" style="left:1066px;top:256.0px;width:55.5px;height:16.69999999999999px;border-color:#f0a050;background:#fff"></div>
<span class="t" style="left:1074.36px;top:257px;font-size:12.5px;line-height:14px;height:14px;color:#ee9a4a;letter-spacing:0.820px;">72,189</span>
<div class="pl" style="left:1066px;top:273.3px;width:55.5px;height:16.399999999999977px;border-color:#86d3e8;background:#fff"></div>
<span class="t" style="left:1074.36px;top:274px;font-size:12.5px;line-height:14px;height:14px;color:#7fcfe5;letter-spacing:0.820px;">70,519</span>
<div class="pl" style="left:1066px;top:290.4px;width:55.5px;height:16.5px;border-color:#e0584e;background:#fff"></div>
<span class="t" style="left:1074.36px;top:291px;font-size:12.5px;line-height:14px;height:14px;color:#e0584e;letter-spacing:0.820px;">70,239</span>
<div class="pl" style="left:1066px;top:212.7px;width:67px;height:30.9px;border:0;background:#70c4dc;border-radius:0 2px 2px 0"></div>
<span class="t" style="left:1074.36px;top:213px;font-size:12.5px;line-height:14px;height:14px;color:#0a1a22;letter-spacing:0.807px;">78,025</span>
<span class="t" style="left:1074.05px;top:228px;font-size:12.5px;line-height:14px;height:14px;color:#1c3d4a;letter-spacing:0.691px;">15:55:18</span>
<div class="pl" style="left:1007.3px;top:213px;width:57.7px;height:16.7px;border:0;background:#70c4dc;border-radius:2px 0 0 2px"></div>
<span class="t" style="left:1011.32px;top:215px;font-size:12px;line-height:14px;height:14px;color:#0a1a22;letter-spacing:0.065px;">BTCUSD</span>
<span class="t" style="left:11.23px;top:397px;font-size:13px;line-height:15px;height:15px;color:#131722;letter-spacing:0.067px;-webkit-text-stroke:0.12px #131722;">BB %b</span>
<span class="t" style="left:54.45px;top:397px;font-size:13px;line-height:15px;height:15px;color:#6b6e78;letter-spacing:0.572px;">20 close 2</span>
<span class="t" style="left:127.69px;top:397px;font-size:13px;line-height:15px;height:15px;color:#3b70f2;letter-spacing:1.124px;">0.88</span>
<span class="t" style="left:1073.95px;top:427px;font-size:12.5px;line-height:14px;height:14px;color:#131722;letter-spacing:0.904px;">1.00</span>
<span class="t" style="left:1074.41px;top:537px;font-size:12.5px;line-height:14px;height:14px;color:#131722;letter-spacing:0.749px;">0.00</span>
<div class="pl" style="left:1066.2px;top:477.6px;width:39.8px;height:15.8px;border-color:#3b78f0"></div>
<span class="t" style="left:1074.41px;top:479px;font-size:12.5px;line-height:14px;height:14px;color:#3b78f0;letter-spacing:0.770px;">0.53</span>
<span class="t" style="left:125.72px;top:590px;font-size:12px;line-height:14px;height:14px;color:#131722;letter-spacing:0.530px;">Dec</span>
<span class="t" style="left:374.42px;top:590px;font-size:12.5px;line-height:14px;height:14px;color:#131722;letter-spacing:0.602px;font-weight:700;transform:scaleX(1.1);transform-origin:0 0;">2026</span>
<span class="t" style="left:632.02px;top:590px;font-size:12px;line-height:14px;height:14px;color:#131722;letter-spacing:0.555px;">Feb</span>
<span class="t" style="left:860.92px;top:590px;font-size:12px;line-height:14px;height:14px;color:#131722;letter-spacing:0.559px;">Mar</span>
<span class="t" style="left:17.93px;top:623px;font-size:14px;line-height:16px;height:16px;color:#131722;letter-spacing:-0.260px;">1D</span>
<span class="t" style="left:47.94px;top:623px;font-size:14px;line-height:16px;height:16px;color:#131722;letter-spacing:1.334px;">5D</span>
<span class="t" style="left:79.13px;top:623px;font-size:14px;line-height:16px;height:16px;color:#131722;letter-spacing:2.367px;">1M</span>
<span class="t" style="left:111.97px;top:623px;font-size:14px;line-height:16px;height:16px;color:#131722;letter-spacing:2.133px;">3M</span>
<span class="t" style="left:144.39px;top:623px;font-size:14px;line-height:16px;height:16px;color:#131722;letter-spacing:2.711px;">6M</span>
<span class="t" style="left:178.09px;top:623px;font-size:14px;line-height:16px;height:16px;color:#131722;letter-spacing:-0.061px;">YTD</span>
<span class="t" style="left:218.23px;top:623px;font-size:14px;line-height:16px;height:16px;color:#131722;letter-spacing:0.050px;">1Y</span>
<span class="t" style="left:248.14px;top:623px;font-size:14px;line-height:16px;height:16px;color:#131722;letter-spacing:-0.350px;">5Y</span>
<span class="t" style="left:277.87px;top:623px;font-size:14px;line-height:16px;height:16px;color:#131722;letter-spacing:0.303px;">All</span>
<span class="t" style="left:1032.85px;top:622px;font-size:14px;line-height:16px;height:16px;color:#131722;letter-spacing:0.629px;">08:04:42 UTC</span>
<svg style="position:absolute;left:0;top:540px" width="200" height="40" viewBox="0 540 200 40"><g stroke="#fff" stroke-width="3" stroke-linejoin="round" fill="#fff"><path d="M15,553.5 H27.4 V567.5 H21.2 V559.7 H15 Z"/><circle cx="32" cy="556.2" r="2.6"/><path d="M37,553.5 H44.7 L39.5,567.5 H31.2 Z"/></g><g fill="#111"><path d="M15,553.5 H27.4 V567.5 H21.2 V559.7 H15 Z"/><circle cx="32" cy="556.2" r="2.6"/><path d="M37,553.5 H44.7 L39.5,567.5 H31.2 Z"/></g></svg>
<span class="t" style="left:51.98px;top:550px;font-size:20px;line-height:22px;font-weight:700;color:#111;letter-spacing:0.128px;-webkit-text-stroke:3px #fff;paint-order:stroke fill">TradingView</span>
</div></body></html>
